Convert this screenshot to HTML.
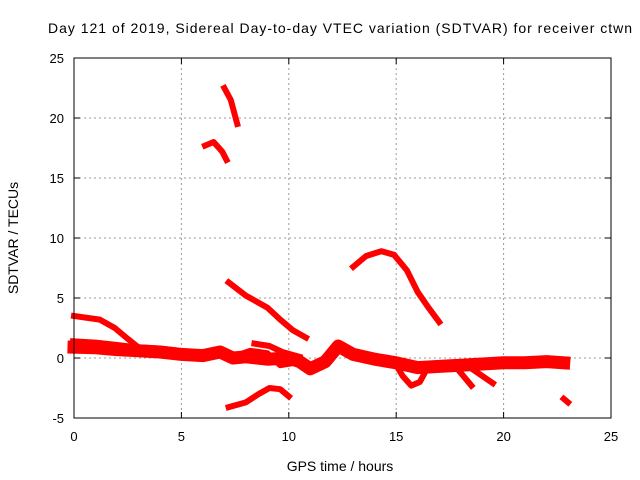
<!DOCTYPE html>
<html><head><meta charset="utf-8"><style>body{margin:0;background:#fff}svg{display:block;font-family:"Liberation Sans",sans-serif}</style></head>
<body>
<svg id="c" width="640" height="480"></svg>
<script>
const xTicks=[0,5,10,15,20,25];
const yTicks=[-5,0,5,10,15,20,25];
const trackUpper=[[0,3.5],[1.2,3.2],[1.9,2.5],[2.4,1.75],[2.85,1.1]];
const trackMain=[[0,0.9],[1,0.85],[2,0.7],[3,0.6],[4,0.5],[5,0.3],[6,0.2],[6.8,0.5],[7.4,0.0],[8,0.1],[9,-0.1],[10,0],[10.5,-0.3],[11,-0.9],[11.7,-0.3],[12.3,1.0],[13,0.3],[14,-0.1],[15,-0.4],[16,-0.8],[17,-0.7],[18,-0.6],[19,-0.5],[20,-0.4],[21,-0.4],[22,-0.3],[22.8,-0.4]];
const trackMainB=[[0,1.3],[1,1.2],[2,1.0],[3,0.8],[4,0.7],[5,0.5]];
const trackDip=[[14.9,-0.3],[15.3,-1.5],[15.7,-2.3],[16.1,-2.0],[16.4,-1.0]];
const trackDesc=[[7.2,6.3],[8,5.2],[9,4.2],[9.6,3.2],[10.2,2.3],[10.8,1.7]];
const trackMid=[[8.4,1.2],[9.1,1.0],[9.7,0.5],[10.5,0.1]];
const trackMid2=[[7.4,0.1],[8.2,0.6],[9,0.4],[9.6,-0.6],[10.3,-0.4]];
const trackArc=[[7.2,-4.1],[8,-3.7],[8.6,-3.0],[9.1,-2.5],[9.6,-2.6],[10,-3.2]];
const trackTopA=[[6.1,17.7],[6.5,18],[6.9,17.2],[7.1,16.5]];
const trackTopB=[[7.0,22.5],[7.3,21.5],[7.6,19.5]];
const trackHump=[[13,7.6],[13.6,8.5],[14.3,8.9],[14.9,8.6],[15.5,7.3],[16,5.5],[16.5,4.2],[17,3.0]];
const trackLate=[[22.8,-3.4],[23.0,-3.7]];
const trackBr1=[[17.8,-0.8],[18.5,-2.3]];
const trackBr2=[[18.6,-1.0],[19.5,-2.1]];
const tracks=[[trackUpper,6],[trackMain,13],[trackMainB,8],[trackDip,6],[trackDesc,6],[trackMid,6],[trackMid2,6],[trackArc,6],[trackTopA,6],[trackTopB,6],[trackHump,6],[trackLate,6],[trackBr1,6],[trackBr2,6]];
const L=74,R=611,T=58,B=418;
const sx=v=>L+(v-0)/25*(R-L), sy=v=>B-(v+5)/30*(B-T);
const s=document.getElementById('c'),NS='http://www.w3.org/2000/svg';
function mk(t,a,p){const e=document.createElementNS(NS,t);for(const k in a)e.setAttribute(k,a[k]);(p||s).appendChild(e);return e;}
const g=mk('g',{});


xTicks.forEach(v=>{if(v>0&&v<25)mk('line',{x1:sx(v),x2:sx(v),y1:T,y2:B,stroke:'#999','stroke-dasharray':'2,3'},g);
 const t=mk('text',{x:sx(v),y:B+23,'text-anchor':'middle','font-size':13});t.textContent=v;
 
 
 mk('line',{x1:sx(v),x2:sx(v),y1:B,y2:B-6,stroke:'#000'});mk('line',{x1:sx(v),x2:sx(v),y1:T,y2:T+6,stroke:'#000'});});
yTicks.forEach(v=>{if(v>-5&&v<25)mk('line',{x1:L,x2:R,y1:sy(v),y2:sy(v),stroke:'#999','stroke-dasharray':'2,3'},g);
 const t=mk('text',{x:L-10,y:sy(v)+5,'text-anchor':'end','font-size':13});t.textContent=v;
 
 
 mk('line',{x1:L,x2:L+6,y1:sy(v),y2:sy(v),stroke:'#000'});mk('line',{x1:R,x2:R-6,y1:sy(v),y2:sy(v),stroke:'#000'});});
tracks.forEach(([d,w])=>{const p=mk('polyline',{points:d.map(q=>sx(q[0])+','+sy(q[1])).join(' '),fill:'none',stroke:'#f00','stroke-width':w,'stroke-linejoin':'round','stroke-linecap':'square'});
 
 });
const fr=mk('rect',{x:L,y:T,width:R-L,height:B-T,fill:'none',stroke:'#000'});


const ti=mk('text',{x:340,y:33,'text-anchor':'middle','font-size':14,textLength:584});ti.textContent='Day 121 of 2019, Sidereal Day-to-day VTEC variation (SDTVAR) for receiver ctwn';


const xl=mk('text',{x:340,y:471,'text-anchor':'middle','font-size':14});xl.textContent='GPS time / hours';


const yl=mk('text',{x:18,y:238,'text-anchor':'middle','font-size':14,transform:'rotate(-90 18 238)'});yl.textContent='SDTVAR / TECUs';


</script>
</body></html>
